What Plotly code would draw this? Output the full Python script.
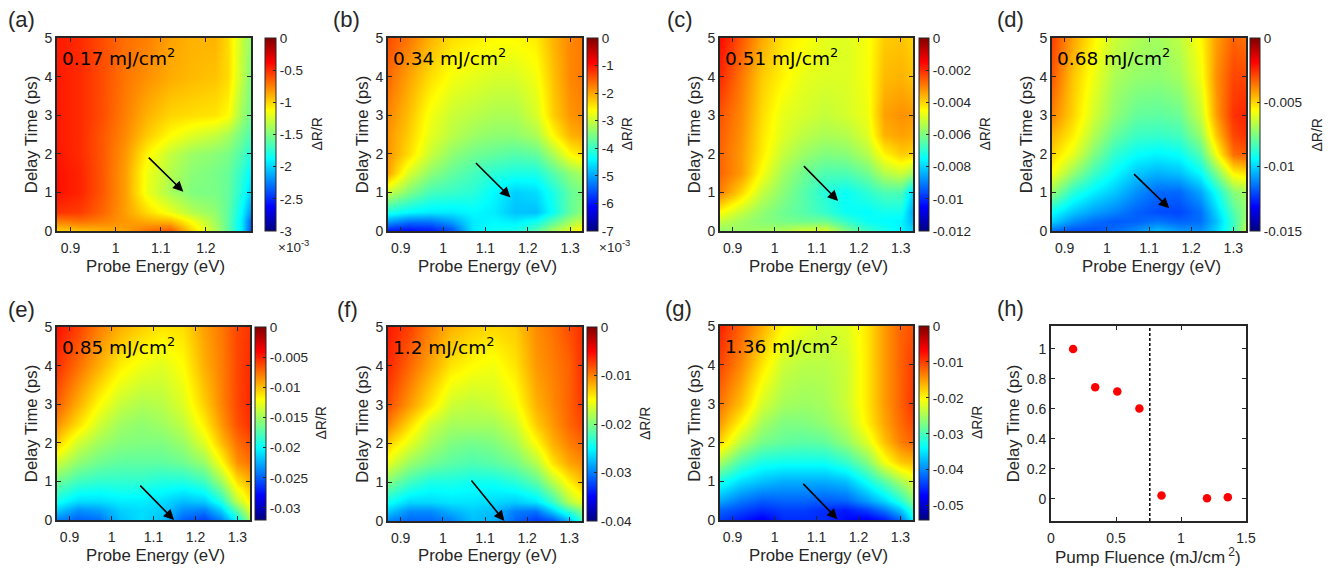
import plotly.graph_objects as go

W, H = 1338, 570
ML, MR, MT, MB = 50, 60, 36, 48
TXT = "#262626"
FONT = "Liberation Sans"

delay = [0, 0.25, 0.5, 1, 1.5, 2, 2.5, 3, 4, 5]
energy_a = [0.87, 0.92, 0.97, 1.02, 1.07, 1.12, 1.17, 1.22, 1.25, 1.28, 1.30]
energy = [0.87, 0.92, 0.97, 1.02, 1.07, 1.12, 1.17, 1.22, 1.26, 1.30, 1.33]

# dR/R in units of 1e-3, rows follow delay, columns follow energy
za = [[-1.00,-0.95,-0.90,-0.85,-0.70,-0.62,-1.00,-1.35,-1.60,-1.95,-2.40],
      [-0.75,-0.70,-0.75,-0.82,-0.88,-0.92,-1.15,-1.40,-1.60,-1.95,-2.35],
      [-0.52,-0.55,-0.67,-0.84,-1.02,-1.18,-1.35,-1.45,-1.60,-1.90,-2.20],
      [-0.42,-0.48,-0.63,-0.84,-1.18,-1.38,-1.50,-1.52,-1.58,-1.80,-2.00],
      [-0.42,-0.48,-0.63,-0.84,-1.17,-1.35,-1.47,-1.52,-1.57,-1.75,-1.90],
      [-0.44,-0.50,-0.63,-0.82,-1.10,-1.30,-1.42,-1.47,-1.52,-1.65,-1.80],
      [-0.45,-0.50,-0.63,-0.78,-0.97,-1.12,-1.22,-1.30,-1.38,-1.55,-1.65],
      [-0.45,-0.50,-0.60,-0.75,-0.90,-1.00,-1.03,-1.05,-1.12,-1.42,-1.55],
      [-0.45,-0.50,-0.60,-0.72,-0.80,-0.88,-0.92,-0.95,-1.02,-1.32,-1.50],
      [-0.45,-0.50,-0.60,-0.70,-0.75,-0.85,-0.90,-0.90,-1.02,-1.30,-1.45]]
zb = [[-6.0,-6.1,-6.0,-5.6,-4.5,-4.3,-4.2,-3.8,-3.2,-2.8,-2.5],
      [-5.0,-5.3,-5.3,-5.0,-4.5,-4.4,-4.5,-4.3,-3.8,-3.3,-3.0],
      [-4.2,-4.4,-4.5,-4.5,-4.4,-4.5,-4.8,-4.8,-4.3,-3.7,-3.4],
      [-3.0,-3.5,-3.9,-4.0,-4.1,-4.4,-4.7,-4.6,-4.2,-3.7,-3.5],
      [-2.0,-2.9,-3.4,-3.7,-3.9,-4.1,-4.2,-4.2,-3.8,-3.4,-3.2],
      [-1.9,-2.4,-3.0,-3.4,-3.6,-3.7,-3.8,-3.7,-3.2,-2.6,-2.4],
      [-1.9,-2.3,-2.8,-3.1,-3.3,-3.4,-3.4,-3.2,-2.6,-2.1,-2.0],
      [-1.8,-2.2,-2.7,-3.0,-3.1,-3.2,-3.2,-2.9,-2.3,-1.9,-1.8],
      [-1.6,-2.0,-2.4,-2.7,-2.8,-2.9,-2.9,-2.7,-2.2,-1.8,-1.7],
      [-1.4,-1.7,-2.1,-2.4,-2.5,-2.6,-2.6,-2.5,-2.1,-1.8,-1.7]]
zc = [[-5.8,-5.7,-5.6,-5.4,-5.0,-4.9,-6.0,-6.8,-7.2,-7.6,-8.0],
      [-5.2,-5.6,-5.9,-6.1,-6.2,-6.2,-6.9,-7.4,-7.5,-7.6,-8.4],
      [-4.5,-5.2,-5.8,-6.2,-6.5,-6.9,-7.4,-7.5,-7.3,-7.3,-8.6],
      [-3.0,-4.0,-5.2,-5.9,-6.5,-7.1,-7.4,-7.0,-6.6,-6.6,-8.0],
      [-2.7,-3.3,-4.6,-5.6,-6.2,-6.6,-6.6,-6.2,-5.4,-5.1,-5.6],
      [-2.7,-3.3,-4.3,-5.2,-5.7,-6.0,-5.9,-5.4,-4.4,-3.9,-4.0],
      [-2.6,-3.2,-4.2,-4.9,-5.3,-5.5,-5.4,-4.9,-3.6,-3.4,-3.5],
      [-2.5,-3.1,-4.1,-4.8,-5.0,-5.2,-5.0,-4.7,-3.4,-3.2,-3.3],
      [-2.0,-2.9,-3.9,-4.4,-4.8,-4.9,-4.9,-4.6,-3.7,-3.6,-3.8],
      [-1.6,-2.5,-3.5,-4.2,-4.5,-4.8,-4.9,-4.6,-3.9,-3.8,-4.0]]
zd = [[-11.5,-12.0,-12.0,-11.5,-11.0,-10.3,-10.8,-11.0,-10.0,-8.5,-6.5],
      [-10.0,-11.0,-11.5,-11.8,-11.7,-11.4,-11.7,-11.5,-10.3,-8.5,-7.0],
      [-9.3,-10.2,-10.8,-11.2,-11.7,-12.0,-12.1,-11.5,-10.0,-8.2,-7.2],
      [-7.2,-8.8,-9.6,-10.2,-11.0,-11.6,-11.6,-10.7,-9.2,-7.4,-7.0],
      [-5.7,-7.2,-8.5,-9.4,-10.2,-10.5,-10.3,-9.4,-7.6,-5.5,-5.2],
      [-5.0,-6.0,-7.5,-8.7,-9.3,-9.5,-9.3,-8.2,-5.8,-3.5,-3.2],
      [-4.5,-5.4,-6.8,-7.9,-8.5,-8.6,-8.4,-7.2,-4.8,-2.9,-2.6],
      [-3.8,-5.0,-6.3,-7.3,-7.9,-8.0,-7.8,-6.5,-4.2,-2.6,-2.4],
      [-3.2,-4.8,-5.9,-6.9,-7.2,-7.3,-7.0,-5.9,-4.0,-2.9,-2.9],
      [-2.8,-4.3,-5.5,-6.4,-6.8,-7.0,-6.6,-5.6,-4.2,-3.3,-3.6]]
ze = [[-24,-25,-24.5,-22,-21,-22,-25,-26,-24,-20,-15],
      [-21.5,-23.5,-23,-21.5,-21,-21.5,-23.5,-24,-21.5,-17,-13],
      [-19.5,-21,-21,-20.5,-20.5,-21,-22,-21.5,-19,-14,-11.5],
      [-16.5,-18,-18.5,-18.5,-18.5,-19,-19,-18,-15,-11,-9.5],
      [-13.5,-15.5,-16.5,-17,-17,-17,-16.5,-15.2,-12,-8.5,-7.5],
      [-10.5,-13.5,-15,-15.8,-16,-16,-15.2,-13,-10,-7.5,-6.5],
      [-8.5,-11,-13.5,-15,-15.5,-15,-14,-11.5,-8.8,-6.5,-5.5],
      [-7,-9.5,-12,-13.8,-14.5,-14.2,-13,-10.5,-8.2,-6.2,-5.2],
      [-5.5,-7.5,-9.5,-11.5,-12.5,-13,-12,-9.5,-8,-6.2,-5.3],
      [-4.5,-6,-8,-9.5,-10.5,-11.2,-11,-9,-7.8,-6.2,-5.6]]
zf = [[-30,-31,-31,-30,-27.5,-28,-31,-33,-32,-28,-23],
      [-27,-29.5,-29.5,-28,-27,-27.5,-30,-30.5,-27,-23,-20],
      [-24.5,-26.5,-26.5,-26,-26,-26.5,-27,-26,-23,-18,-16],
      [-20,-22.5,-24,-24,-24.5,-24.5,-23.5,-21.5,-18,-14.5,-12.5],
      [-16,-19,-20.5,-21.5,-22,-21.5,-20.5,-18,-14,-11.5,-10.5],
      [-13,-16,-18.5,-20,-20.5,-20,-18.5,-15,-12,-10,-9],
      [-10,-13.5,-17,-18.5,-18.5,-18.5,-17,-13,-11,-9,-7.8],
      [-8,-11,-14,-17,-17.5,-17,-15.5,-12,-10.5,-8.8,-7.2],
      [-6.5,-9,-11.5,-14,-15,-15.5,-14,-11,-10,-8.8,-6.8],
      [-6,-7.5,-10,-12,-13,-13.5,-13,-10.5,-9.5,-8,-6.8]]
zg = [[-44,-46,-48,-45,-45,-45,-47,-48,-46,-42,-34],
      [-42,-43.5,-45,-44,-44,-45,-46,-44,-41,-37,-31],
      [-38.5,-41,-42.5,-42,-42,-42.5,-42,-39,-36,-32,-27],
      [-32.5,-35.5,-37,-38,-38,-38,-37,-33,-29,-25,-22],
      [-25,-30,-32.5,-33,-33,-33,-31,-27,-21,-17.5,-16.5],
      [-18,-24,-27.5,-28.5,-29,-28.5,-26,-22,-17,-13.5,-12],
      [-15,-20,-25,-27,-27,-26,-24,-19.5,-15.5,-12.5,-10.5],
      [-13,-17,-22.5,-25,-25.5,-25,-23,-19,-15,-12,-9.5],
      [-10.5,-14,-19,-23,-24,-24,-23,-19,-15,-12,-9.8],
      [-8.5,-12,-16,-20,-21.5,-22.5,-22,-19,-15,-12,-11]]

fluence = [0.17, 0.34, 0.51, 0.68, 0.85, 1.2, 1.36]
peak_delay = [1.0, 0.745, 0.717, 0.603, 0.023, 0.005, 0.012]
threshold_x = [0.76, 0.76]
threshold_y = [-0.147, 1.153]

panels = [
    dict(tag="(a)", lab="0.17 mJ/cm<sup>2</sup>", z=za, e=energy_a, xmax=1.30, zmin=-3,
         cb_vals=[0,-0.5,-1,-1.5,-2,-2.5,-3], cb_txt=["0","-0.5","-1","-1.5","-2","-2.5","-3"],
         box=(57,251,38,231), cb=(265,276), arrow=(1.07,1.94,1.15,1.02), tag_x=6, cbt_x=317, xt=(155.5,266)),
    dict(tag="(b)", lab="0.34 mJ/cm<sup>2</sup>", z=zb, e=energy, xmax=1.328, zmin=-7,
         cb_vals=[0,-1,-2,-3,-4,-5,-6,-7], cb_txt=["0","-1","-2","-3","-4","-5","-6","-7"],
         box=(388,582,38,231), cb=(587,598), arrow=(1.074,1.80,1.159,0.87), tag_x=331, cbt_x=627, xt=(487,266)),
    dict(tag="(c)", lab="0.51 mJ/cm<sup>2</sup>", z=zc, e=energy, xmax=1.329, zmin=-12,
         cb_vals=[0,-2,-4,-6,-8,-10,-12], cb_txt=["0","-0.002","-0.004","-0.006","-0.008","-0.01","-0.012"],
         box=(720,913,38,231), cb=(919,929), arrow=(1.066,1.72,1.151,0.78), tag_x=665, cbt_x=985, xt=(819,266)),
    dict(tag="(d)", lab="0.68 mJ/cm<sup>2</sup>", z=zd, e=energy, xmax=1.33, zmin=-15,
         cb_vals=[0,-5,-10,-15], cb_txt=["0","-0.005","-0.01","-0.015"],
         box=(1052,1246,38,231), cb=(1250,1260), arrow=(1.061,1.51,1.148,0.59), tag_x=995, cbt_x=1317, xt=(1151,266)),
    dict(tag="(e)", lab="0.85 mJ/cm<sup>2</sup>", z=ze, e=energy, xmax=1.33, zmin=-32,
         cb_vals=[0,-5,-10,-15,-20,-25,-30], cb_txt=["0","-0.005","-0.01","-0.015","-0.02","-0.025","-0.03"],
         box=(57,250,327,520), cb=(255,266), arrow=(1.065,0.93,1.149,0.0), tag_x=6, cbt_x=320, xt=(155,555)),
    dict(tag="(f)", lab="1.2 mJ/cm<sup>2</sup>", z=zf, e=energy, xmax=1.33, zmin=-40,
         cb_vals=[0,-10,-20,-30,-40], cb_txt=["0","-0.01","-0.02","-0.03","-0.04"],
         box=(388,582,327,521), cb=(587,597), arrow=(1.065,1.08,1.146,0.0), tag_x=335, cbt_x=645, xt=(487,555)),
    dict(tag="(g)", lab="1.36 mJ/cm<sup>2</sup>", z=zg, e=energy, xmax=1.33, zmin=-54,
         cb_vals=[0,-10,-20,-30,-40,-50], cb_txt=["0","-0.01","-0.02","-0.03","-0.04","-0.05"],
         box=(720,913,326,520), cb=(919,929), arrow=(1.065,0.97,1.15,0.02), tag_x=663, cbt_x=977, xt=(819,555)),
]

jet = [[0,"#000080"],[0.125,"#0000ff"],[0.375,"#00ffff"],[0.625,"#ffff00"],[0.875,"#ff0000"],[1,"#800000"]]

fig = go.Figure()
annotations = []
layout = {}


def ax_common():
    return dict(showgrid=False, zeroline=False, showline=True, mirror="allticks",
                linecolor=TXT, linewidth=2, ticks="inside", ticklen=4, tickwidth=1.3,
                tickcolor=TXT, tickfont=dict(family=FONT, size=14, color=TXT))


def paper_x(px):
    return (px - ML) / (W - ML - MR)


def paper_y(py):
    return 1 - (py - MT) / (H - MT - MB)


def x_title(text, cx, cy, size=16.8):
    annotations.append(dict(x=paper_x(cx), y=paper_y(cy), xref="paper", yref="paper",
                            xanchor="center", yanchor="middle", text=text, showarrow=False,
                            font=dict(family=FONT, size=size, color=TXT)))


for i, p in enumerate(panels, start=1):
    l, r, t, b = p["box"]
    xn = "xaxis" if i == 1 else f"xaxis{i}"
    yn = "yaxis" if i == 1 else f"yaxis{i}"
    xr = "x" if i == 1 else f"x{i}"
    yr = "y" if i == 1 else f"y{i}"
    ticks = [0.9, 1, 1.1, 1.2] + ([] if p["xmax"] <= 1.3 else [1.3])
    layout[xn] = dict(ax_common(), domain=[paper_x(l), paper_x(r)], anchor=yr, range=[0.87, p["xmax"]],
                      tickvals=ticks, ticktext=[f"{v:g}" for v in ticks], ticklabelstandoff=3)
    layout[yn] = dict(ax_common(), domain=[paper_y(b), paper_y(t)], anchor=xr, range=[0, 5],
                      tickvals=[0, 1, 2, 3, 4, 5],
                      title=dict(text="Delay Time (ps)", standoff=3, font=dict(family=FONT, size=16.8, color=TXT)))
    x_title("Probe Energy (eV)", *p["xt"])
    fig.add_trace(go.Heatmap(
        x=p["e"], y=delay, z=p["z"], xaxis=xr, yaxis=yr,
        colorscale=jet, zmin=p["zmin"], zmax=0, zsmooth="best",
        hoverinfo="skip",
        colorbar=dict(
            x=paper_x(p["cb"][0]), xanchor="left", xpad=0, ypad=0,
            y=paper_y((t + b) / 2), yanchor="middle",
            lenmode="pixels", len=b - t, thicknessmode="pixels", thickness=p["cb"][1] - p["cb"][0],
            outlinecolor=TXT, outlinewidth=1,
            tickmode="array", tickvals=p["cb_vals"], ticktext=p["cb_txt"],
            ticks="inside", ticklen=3, tickcolor=TXT, tickfont=dict(family=FONT, size=13.5, color=TXT),
        ),
    ))
    x0, y0, x1, y1 = p["arrow"]
    annotations.append(dict(x=x1, y=y1, ax=x0, ay=y0, xref=xr, yref=yr, axref=xr, ayref=yr, text="",
                            showarrow=True, arrowhead=2, arrowsize=1.3, arrowwidth=1.6,
                            arrowcolor="black", standoff=0))
    annotations.append(dict(x=paper_x(l + 3), y=paper_y(t + 19), xref="paper", yref="paper",
                            xanchor="left", yanchor="middle", text=p["lab"], showarrow=False,
                            font=dict(family="DejaVu Sans", size=18.5, color="black")))
    annotations.append(dict(x=paper_x(p["tag_x"]), y=paper_y(t - 18), xref="paper", yref="paper",
                            xanchor="left", yanchor="middle", text=p["tag"], showarrow=False,
                            font=dict(family=FONT, size=22, color=TXT)))
    annotations.append(dict(x=paper_x(p["cbt_x"]), y=paper_y((t + b) / 2), xref="paper", yref="paper",
                            xanchor="center", yanchor="middle", text="ΔR/R", textangle=-90, showarrow=False,
                            font=dict(family=FONT, size=14, color=TXT)))

for cx in (276, 597):
    annotations.append(dict(x=paper_x(cx), y=paper_y(246), xref="paper", yref="paper",
                            xanchor="left", yanchor="middle", text="×10<sup>-3</sup>", showarrow=False,
                            font=dict(family=FONT, size=13.5, color=TXT)))

# panel (h)
layout["xaxis8"] = dict(ax_common(), domain=[paper_x(1051), paper_x(1246)], anchor="y8", range=[0, 1.5],
                        tickvals=[0, 0.5, 1, 1.5], ticktext=["0", "0.5", "1", "1.5"], ticklabelstandoff=3)
x_title("Pump Fluence (mJ/cm<sup> 2</sup>)", 1148, 556, 17)
layout["yaxis8"] = dict(ax_common(), domain=[paper_y(521), paper_y(326)], anchor="x8", range=[-0.147, 1.153],
                        tickvals=[0, 0.2, 0.4, 0.6, 0.8, 1], ticktext=["0", "0.2", "0.4", "0.6", "0.8", "1"],
                        title=dict(text="Delay Time (ps)", standoff=3, font=dict(family=FONT, size=16.8, color=TXT)))
fig.add_trace(go.Scatter(x=threshold_x, y=threshold_y, mode="lines", xaxis="x8", yaxis="y8",
                         line=dict(color="black", width=1.5, dash="3px,2px"), showlegend=False, hoverinfo="skip"))
fig.add_trace(go.Scatter(x=fluence, y=peak_delay, mode="markers", xaxis="x8", yaxis="y8",
                         marker=dict(color="#ff0000", size=8.5), showlegend=False))
annotations.append(dict(x=paper_x(995), y=paper_y(308), xref="paper", yref="paper", xanchor="left",
                        yanchor="middle", text="(h)", showarrow=False, font=dict(family=FONT, size=22, color=TXT)))

fig.update_layout(width=W, height=H, autosize=False, margin=dict(l=ML, r=MR, t=MT, b=MB, pad=0),
                  paper_bgcolor="white", plot_bgcolor="white", annotations=annotations, **layout)
fig.write_html("out.html", config={"displayModeBar": False}, post_script="document.body.style.margin='0';")
